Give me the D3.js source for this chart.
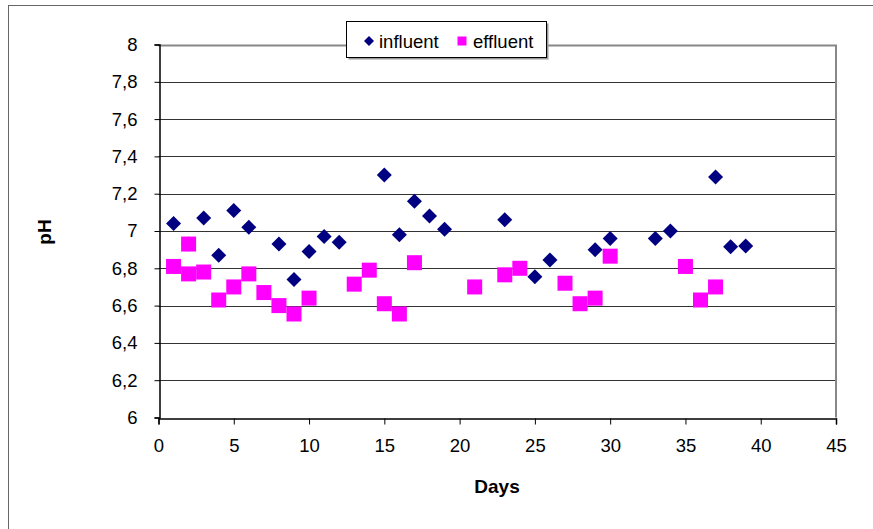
<!DOCTYPE html>
<html><head><meta charset="utf-8">
<script src="https://cdn.jsdelivr.net/npm/d3@7"></script>
<style>body{margin:0;background:#fff}svg{display:block}</style>
</head><body>
<script>
const influentDays = [1,2,3,4,5,6,8,9,10,11,12,15,16,17,18,19,23,25,26,29,30,33,34,37,38,39];
const influentPH   = [7.04,6.93,7.07,6.87,7.11,7.02,6.93,6.74,6.89,6.97,6.94,7.30,6.98,7.16,7.08,7.01,7.06,6.755,6.845,6.90,6.96,6.96,7.00,7.29,6.915,6.92];
const effluentDays = [1,2,2,3,4,5,6,7,8,9,10,13,14,15,16,17,21,23,24,27,28,29,30,35,36,37];
const effluentPH   = [6.81,6.93,6.77,6.78,6.63,6.70,6.77,6.67,6.60,6.555,6.64,6.715,6.79,6.61,6.555,6.83,6.70,6.765,6.80,6.72,6.61,6.64,6.865,6.81,6.63,6.70];
const xTicks = [0,5,10,15,20,25,30,35,40,45];
const yTicks = [6,6.2,6.4,6.6,6.8,7,7.2,7.4,7.6,7.8,8];
const seriesNames = ["influent","effluent"];

const W = 873, H = 529;
const svg = d3.select("body").append("svg").attr("width", W).attr("height", H);
const font = "'Liberation Sans', Arial, sans-serif";

// outer chart border
svg.append("rect").attr("x", 8.5).attr("y", 5.5).attr("width", W + 20).attr("height", H + 20)
  .attr("fill", "none").attr("stroke", "#666").attr("stroke-width", 1);

const x = d3.scaleLinear().domain([0, 45]).range([158.5, 836]);
const y = d3.scaleLinear().domain([6, 8]).range([417.5, 44.5]);

// gridlines
svg.append("g").selectAll("line").data(yTicks.slice(1)).join("line")
  .attr("x1", x(0)).attr("x2", x(45))
  .attr("y1", d => Math.round(y(d)) + 0.5).attr("y2", d => Math.round(y(d)) + 0.5)
  .attr("stroke", "#333").attr("stroke-width", 1);

// plot area border (top/right gray)
svg.append("path")
  .attr("d", `M${x(0)},${Math.round(y(8))+0.5} H${x(45)} V${y(6)}`)
  .attr("fill", "none").attr("stroke", "#888").attr("stroke-width", 2);

// axes
const fmt = d => String(+d.toFixed(1)).replace(".", ",");
const yAxis = svg.append("g").attr("transform", `translate(${Math.round(x(0))+0.5},0)`)
  .call(d3.axisLeft(y).tickValues(yTicks).tickFormat(fmt).tickSize(5).tickPadding(17));
const xAxis = svg.append("g").attr("transform", `translate(0,${Math.round(y(6))+0.5})`)
  .call(d3.axisBottom(x).tickValues(xTicks).tickFormat(d3.format("d")).tickSize(6).tickPadding(14));
[yAxis, xAxis].forEach(a => {
  a.selectAll("path").attr("stroke", "#000").attr("stroke-width", 1.5);
  a.selectAll("line").attr("stroke", "#000");
  a.selectAll("text").attr("font-family", font).attr("font-size", 18.5).attr("fill", "#000");
});

// axis titles
svg.append("text").attr("x", 497).attr("y", 493).attr("text-anchor", "middle")
  .attr("font-family", font).attr("font-weight", "bold").attr("font-size", 19).text("Days");
svg.append("text").attr("transform", "translate(51,232) rotate(-90)").attr("text-anchor", "middle")
  .attr("font-family", font).attr("font-weight", "bold").attr("font-size", 19).text("pH");

// markers
const diamond = s => `M0,${-s} L${s},0 L0,${s} L${-s},0 Z`;
svg.append("g").selectAll("path").data(influentDays.map((d, i) => [d, influentPH[i]])).join("path")
  .attr("transform", d => `translate(${x(d[0])},${y(d[1])})`)
  .attr("d", diamond(7.5)).attr("fill", "#000080");
svg.append("g").selectAll("rect").data(effluentDays.map((d, i) => [d, effluentPH[i]])).join("rect")
  .attr("x", d => x(d[0]) - 7.5).attr("y", d => y(d[1]) - 7.5)
  .attr("width", 15).attr("height", 15).attr("fill", "#FF00FF");

// legend
const lg = svg.append("g");
lg.append("rect").attr("x", 348.5).attr("y", 23.5).attr("width", 200).attr("height", 36).attr("fill", "#999");
lg.append("rect").attr("x", 346.5).attr("y", 21.5).attr("width", 200).attr("height", 36)
  .attr("fill", "#fff").attr("stroke", "#000").attr("stroke-width", 1);
lg.append("path").attr("transform", "translate(369,41)").attr("d", diamond(5)).attr("fill", "#000080");
lg.append("rect").attr("x", 457.5).attr("y", 36.5).attr("width", 9).attr("height", 9).attr("fill", "#FF00FF");
lg.append("text").attr("x", 379).attr("y", 47.5).attr("font-family", font).attr("font-size", 18.5).text(seriesNames[0]);
lg.append("text").attr("x", 473).attr("y", 47.5).attr("font-family", font).attr("font-size", 18.5).text(seriesNames[1]);
</script>
</body></html>
